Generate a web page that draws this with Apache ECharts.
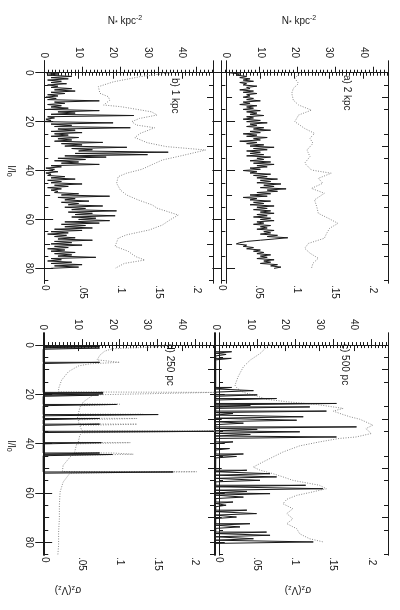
<!DOCTYPE html>
<html>
<head>
<meta charset="utf-8">
<script src="https://cdn.jsdelivr.net/npm/echarts@6/dist/echarts.min.js"></script>
<style>
  html, body { margin: 0; padding: 0; background: #fff; }
  #chart { width: 400px; height: 610px; }
</style>
</head>
<body>
<div id="chart"></div>
<script>
// tick labels
var nTicks = [0, 10, 20, 30, 40]
var sTicks = [0, 0.05, 0.1, 0.15, 0.2]
var lTicks = [0, 20, 40, 60, 80]
var lMid = [10, 30, 50, 70]
var lMinor = [5, 15, 25, 35, 45, 55, 65, 75, 85]

// l / l0 samples for the 2 kpc and 1 kpc profiles
var lFine = [0, 0.5, 1, 1.5, 2, 2.5, 3, 3.5, 4, 4.5, 5, 5.5, 6, 6.5, 7, 7.5, 8, 8.5, 9, 9.5,
  10, 10.5, 11, 11.5, 12, 12.5, 13, 13.5, 14, 14.5, 15, 15.5, 16, 16.5, 17, 17.5, 18, 18.5, 19, 19.5,
  20, 20.5, 21, 21.5, 22, 22.5, 23, 23.5, 24, 24.5, 25, 25.5, 26, 26.5, 27, 27.5, 28, 28.5, 29, 29.5,
  30, 30.5, 31, 31.5, 32, 32.5, 33, 33.5, 34, 34.5, 35, 35.5, 36, 36.5, 37, 37.5, 38, 38.5, 39, 39.5,
  40, 40.5, 41, 41.5, 42, 42.5, 43, 43.5, 44, 44.5, 45, 45.5, 46, 46.5, 47, 47.5, 48, 48.5, 49, 49.5,
  50, 50.5, 51, 51.5, 52, 52.5, 53, 53.5, 54, 54.5, 55, 55.5, 56, 56.5, 57, 57.5, 58, 58.5, 59, 59.5,
  60, 60.5, 61, 61.5, 62, 62.5, 63, 63.5, 64, 64.5, 65, 65.5, 66, 66.5, 67, 67.5, 68, 68.5, 69, 69.5,
  70, 70.5, 71, 71.5, 72, 72.5, 73, 73.5, 74, 74.5, 75, 75.5, 76, 76.5, 77, 77.5, 78, 78.5, 79, 79.5, 80]

// a) 2 kpc
var aN = [1, 4, 3, 6, 4, 7, 5, 8, 4, 6, 5, 9, 6, 7, 4, 8, 5, 9, 6, 7,
  5, 8, 6, 10, 5, 7, 4, 9, 6, 8, 5, 10, 6, 9, 7, 11, 6, 8, 5, 10,
  6, 12, 7, 9, 6, 11, 8, 13, 7, 10, 5, 9, 6, 12, 8, 10, 4, 9, 6, 11,
  7, 14, 8, 12, 6, 10, 7, 11, 6, 13, 9, 11, 7, 13, 8, 14, 9, 12, 7, 10,
  5, 9, 7, 13, 8, 12, 9, 15, 10, 13, 9, 16, 11, 14, 10, 17.5, 12, 15, 9, 13,
  7, 12, 5, 9, 7, 13, 8, 11, 7, 14, 9, 12, 8, 13, 10, 14, 9, 12, 8, 13,
  10, 14, 9, 11, 8, 13, 10, 12, 9, 14, 11, 13, 10, 15, 12, 18, 14, 10, 6, 4,
  3, 6, 5, 8, 6, 10, 8, 11, 9, 13, 10, 12, 9, 14, 11, 13, 10, 15, 13, 16, 14]
var aSigL = [0, 2.3, 4.4, 6.4, 8.4, 11.2, 13.2, 15.3, 17.3, 20, 22.8, 24.8, 26.8, 28.9, 31.6, 34.3, 37, 39.8, 41.1,
  43.2, 45.2, 47.3, 49.3, 52, 54.8, 57.5, 59.5, 61.6, 63.6, 65.7, 67.7, 69.8, 71.8, 73.8, 75.9, 77.9, 80]
var aSig = [0.104, 0.097, 0.102, 0.095, 0.093, 0.095, 0.102, 0.119, 0.102, 0.097, 0.11, 0.123, 0.117, 0.121, 0.113, 0.117, 0.11, 0.119, 0.145,
  0.128, 0.134, 0.119, 0.136, 0.123, 0.126, 0.128, 0.141, 0.154, 0.143, 0.139, 0.136, 0.115, 0.11, 0.117, 0.128, 0.121, 0.119]

// b) 1 kpc
var bN = [0.5, 4, 1, 8, 2, 7, 1, 5, 2, 6.5, 1, 4, 2, 8, 3, 9, 2, 6, 1, 4,
  0.5, 3.5, 1, 16, 3, 6, 1, 5, 2, 7, 1, 16, 4, 9, 2, 26, 1, 3, 0.5, 2,
  0, 20, 2, 8, 3, 25, 4, 9, 2, 11, 3, 7, 2, 10, 4, 8, 3, 17, 5, 11,
  6, 24, 8, 14, 10, 36, 9, 30, 6, 18, 4, 12, 3, 10, 5, 16, 2, 5, 0.5, 3,
  1, 4, 0.5, 2, 1, 6, 2, 9, 1, 5, 2, 11, 3, 7, 1, 5, 2, 4, 3, 10,
  5, 19, 4, 9, 6, 13, 5, 10, 7, 17, 6, 12, 8, 21, 7, 14, 9, 20.6, 8, 15,
  10, 19, 6, 16, 5, 12, 6, 14, 3, 11, 2, 7, 1, 6.5, 3, 9, 4, 14, 3, 8,
  2, 11, 3, 7, 1, 6, 2, 9, 3, 8, 4, 15, 2, 5, 1, 8, 2, 11, 3, 10, 2]
var bSigL = [0, 1.6, 3.7, 5.7, 8.4, 9.8, 11.2, 13.2, 13.9, 16, 17.3, 18.7, 20, 21.4, 22.5, 24.8, 26.5, 28.6, 30.2, 31.6,
  33.6, 35.7, 37.1, 39.5, 41.1, 42.5, 45.2, 48, 50, 52, 54.1, 55.4, 58.2, 60.2, 62.3, 64.3, 66.3, 67.7, 71, 73,
  75.2, 76.6, 78, 80]
var bSig = [0.165, 0.126, 0.091, 0.071, 0.073, 0.084, 0.086, 0.078, 0.101, 0.141, 0.148, 0.125, 0.115, 0.121, 0.145, 0.126, 0.119, 0.135, 0.16, 0.212,
  0.185, 0.155, 0.145, 0.128, 0.108, 0.097, 0.095, 0.1, 0.108, 0.123, 0.142, 0.148, 0.176, 0.165, 0.155, 0.138, 0.108, 0.097, 0.093, 0.11,
  0.12, 0.132, 0.105, 0.093]

// c) 500 pc : cell peaks
var cL = [2.7, 3.8, 5.4, 17.2, 18.5, 20.2, 21.7, 23.7, 24.5, 25.1, 26.8, 27.8, 29.1, 30.5, 31.7, 33.2, 34.2, 35.2, 36.3, 37.3,
  39.3, 42, 44.2, 45.2, 50.8, 52.2, 53.5, 54.9, 56.9, 58.3, 59.4, 60.3, 61.7, 63.7, 65, 67, 68.4, 69.8, 72.5, 73.8,
  75.9, 77.2, 78.6, 79.9]
var cN = [4.6, 3, 4.5, 4.6, 10.9, 12, 17.6, 34.9, 10, 27.2, 32, 5, 25.3, 23.4, 8, 40.7, 12, 24.3, 10, 34.9,
  5, 4, 8, 6, 9, 15.7, 17.6, 12.8, 26, 31, 9, 15.7, 8, 5, 3, 9, 11.8, 6, 9.9, 7,
  14.7, 15.7, 10.9, 28.2]
var cSigL = [-1, 1, 3.4, 6.1, 8.8, 12.9, 16.3, 17.6, 19.2, 20.6, 22, 23, 24.1, 25.7, 26.8, 28.2, 29.1, 30.1, 31.2, 32.5,
  33.9, 35.9, 37.3, 37.9, 39.3, 40.9, 43.4, 45.4, 47.4, 49.5, 50.8, 52.2, 53.5, 54.9, 56.9, 58.3, 59.6, 61, 62.6, 64.4,
  66.4, 68.4, 70.5, 72.5, 74.5, 76.6, 78.6, 79.9]
var cSig = [0.069, 0.062, 0.054, 0.041, 0.032, 0.025, 0.021, 0.024, 0.032, 0.049, 0.062, 0.089, 0.128, 0.163, 0.15, 0.163, 0.172, 0.185, 0.193, 0.202,
  0.193, 0.2, 0.18, 0.158, 0.132, 0.106, 0.084, 0.071, 0.058, 0.045, 0.054, 0.071, 0.084, 0.097, 0.132, 0.141, 0.123, 0.102, 0.089, 0.084,
  0.097, 0.089, 0.097, 0.089, 0.102, 0.106, 0.119, 0.137]

// d) 250 pc : cell peaks
var dL = [0.6, 1.2, 7, 19.2, 19.8, 20.3, 24.1, 28.2, 29.8, 32.1, 35, 39.6, 43.8, 44.4, 51.5]
var dN = [16.3, 16.3, 16.3, 17.3, 17.3, 16, 21.2, 33.2, 16.3, 16.3, 49.3, 16.8, 16.3, 20, 37.5]
var dSigL = [-0.5, 0.5, 1, 1.5, 2.5, 4, 6, 6.8, 7, 7.4, 7.6, 8.5, 10.8, 14.2, 17.6, 19, 19.2, 20, 20.2, 21,
  23, 23.9, 24, 24.5, 24.6, 25.7, 28, 28.1, 28.6, 28.7, 29.7, 29.8, 30.2, 30.3, 32, 32.1, 32.5, 32.6, 34.8, 34.9,
  35.5, 35.6, 36.6, 39.5, 39.6, 40, 40.1, 40.7, 43.7, 43.8, 44.2, 44.3, 44.7, 44.8, 45.4, 48.8, 51.3, 51.4, 51.9, 52,
  52.8, 55.6, 59.6, 65, 70.5, 75.9, 81.3, 85]
var dSig = [0.16, 0.158, 0.13, 0.09, 0.08, 0.074, 0.07, 0.07, 0.1, 0.1, 0.06, 0.045, 0.032, 0.023, 0.019, 0.019, 0.226, 0.226, 0.065, 0.065,
  0.052, 0.05, 0.1, 0.1, 0.048, 0.047, 0.045, 0.131, 0.131, 0.044, 0.044, 0.123, 0.123, 0.045, 0.046, 0.123, 0.123, 0.047, 0.05, 0.226,
  0.226, 0.05, 0.047, 0.045, 0.114, 0.114, 0.043, 0.043, 0.04, 0.09, 0.09, 0.118, 0.118, 0.036, 0.036, 0.025, 0.024, 0.202, 0.202, 0.034,
  0.034, 0.025, 0.021, 0.02, 0.02, 0.019, 0.019, 0.018]

var INK = '#1a1a1a'
var GREY = '#8a8a8a'
var FONT = 'Liberation Sans'

// minor ticks
var nMinor = []
for (var i = 0; i <= 50; i++) nMinor.push(i)
var sMinor = []
for (var j = 0; j <= 46; j++) sMinor.push(Math.round(j * 5) / 1000)

function zip(xs, ls) {
  var out = []
  for (var k = 0; k < ls.length; k++) out.push([xs[k], ls[k]])
  return out
}
// cell histogram: flat peaks joined along zero
function peaks(ls, vs, w) {
  var out = []
  for (var k = 0; k < ls.length; k++) {
    out.push([0, ls[k]], [vs[k], ls[k]], [vs[k], ls[k] + w], [0, ls[k] + w])
  }
  return out
}
function fmtSigma(v) {
  return v === 0 ? '0' : String(v).replace(/^0/, '')
}

var panels = [
  { box: [39, 61, 174, 222], n: [-1.5, 49], s: [-0.007, 0.2216], l: [-4.8, 86], labels: true,
    dark: zip(bN, lFine), dots: zip(bSig, bSigL) },
  { box: [213, 61, 175, 222], n: [-3.8, 47.2], s: [-0.011, 0.22], l: [-4.8, 86], labels: false,
    dark: zip(aN, lFine), dots: zip(aSig, aSigL) },
  { box: [39, 333, 175, 222], n: [-1.2, 49.3], s: [-0.007, 0.225], l: [-4.9, 85.2], labels: true,
    dark: peaks(dL, dN, 0.5), dots: zip(dSig, dSigL) },
  { box: [214, 333, 174, 222], n: [-0.5, 49.8], s: [-0.0066, 0.222], l: [-4.9, 85.2], labels: false,
    dark: peaks(cL, cN, 0.6), dots: zip(cSig, cSigL) }
]

var grids = []
var xAxes = []
var yAxes = []
var series = []

function axis(gi, pos, range, ticks, len, labels, margin, fmt) {
  var isY = pos === 'left' || pos === 'right'
  var vals = ticks.filter(function(v) { return v >= range[0] && v <= range[1] })
  return {
    type: 'value',
    gridIndex: gi,
    position: pos,
    min: range[0],
    max: range[1],
    inverse: isY,
    axisLine: { show: true, lineStyle: { color: INK, width: 1 } },
    axisTick: { show: true, inside: true, length: len, customValues: vals, lineStyle: { color: INK, width: 1 } },
    axisLabel: {
      show: labels,
      customValues: vals,
      rotate: -90,
      margin: margin,
      fontSize: 10,
      fontFamily: FONT,
      color: INK,
      formatter: fmt
    },
    splitLine: { show: false }
  }
}

panels.forEach(function(p, gi) {
  grids.push({ left: p.box[0], top: p.box[1], width: p.box[2], height: p.box[3] })
  var nIdx = xAxes.length
  xAxes.push(axis(gi, 'top', p.n, nTicks, 6, true, 3))
  xAxes.push(axis(gi, 'top', p.n, nMinor, 3, false, 3))
  var sIdx = xAxes.length
  xAxes.push(axis(gi, 'bottom', p.s, sTicks, 6, true, 2, fmtSigma))
  xAxes.push(axis(gi, 'bottom', p.s, sMinor, 3, false, 2))
  var lIdx = yAxes.length
  yAxes.push(axis(gi, 'left', p.l, lTicks, 9, p.labels, 5))
  yAxes.push(axis(gi, 'left', p.l, lMid, 6, false, 5))
  yAxes.push(axis(gi, 'left', p.l, lMinor, 4, false, 5))
  yAxes.push(axis(gi, 'right', p.l, lTicks, 9, false, 5))
  yAxes.push(axis(gi, 'right', p.l, lMid, 6, false, 5))
  yAxes.push(axis(gi, 'right', p.l, lMinor, 4, false, 5))
  series.push({
    type: 'line', xAxisIndex: sIdx, yAxisIndex: lIdx, data: p.dots,
    symbol: 'none', silent: true, clip: true,
    lineStyle: { color: GREY, width: 1, type: [1, 1.5] }
  })
  series.push({
    type: 'line', xAxisIndex: nIdx, yAxisIndex: lIdx, data: p.dark,
    symbol: 'none', silent: true, clip: true,
    lineStyle: { color: INK, width: 1 }
  })
})

var rich = {
  n: { fontSize: 10, lineHeight: 12, fontFamily: FONT, fill: INK },
  s: { fontSize: 7, lineHeight: 7, fontFamily: FONT, fill: INK, verticalAlign: 'bottom' },
  p: { fontSize: 7, lineHeight: 7, fontFamily: FONT, fill: INK, verticalAlign: 'top' }
}
function label(x, y, text, rot, align) {
  return {
    type: 'text', x: x, y: y, rotation: rot, silent: true,
    style: { text: text, rich: rich, fill: INK, font: '10px ' + FONT, textAlign: align || 'center', textVerticalAlign: 'middle' }
  }
}

var chart = echarts.init(document.getElementById('chart'), null, { renderer: 'canvas' })
chart.setOption({
  animation: false,
  backgroundColor: '#fff',
  grid: grids,
  xAxis: xAxes,
  yAxis: yAxes,
  series: series,
  graphic: [
    label(125, 21, '{n|N}{s|*} {n|kpc}{p|-2}', 0),
    label(299, 21, '{n|N}{s|*} {n|kpc}{p|-2}', 0),
    label(68, 590, '{n|σ}{s|z}{n|(V}{s|z}{n|)}', Math.PI),
    label(298, 590, '{n|σ}{s|z}{n|(V}{s|z}{n|)}', Math.PI),
    label(11, 171, '{n|l/l}{s|0}', -Math.PI / 2),
    label(11, 446, '{n|l/l}{s|0}', -Math.PI / 2),
    label(175, 78, '{n|b) 1 kpc}', -Math.PI / 2, 'left'),
    label(347, 75, '{n|a) 2 kpc}', -Math.PI / 2, 'left'),
    label(345, 344, '{n|c) 500 pc}', -Math.PI / 2, 'left'),
    label(170, 344, '{n|d) 250 pc}', -Math.PI / 2, 'left')
  ]
})
</script>
</body>
</html>
